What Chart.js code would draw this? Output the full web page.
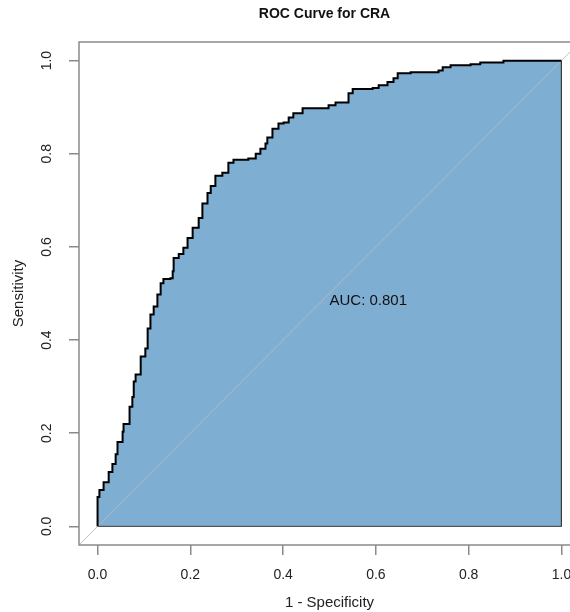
<!DOCTYPE html>
<html>
<head>
<meta charset="utf-8">
<script src="https://cdn.jsdelivr.net/npm/chart.js@4.4.1/dist/chart.umd.min.js"></script>
<style>
  html, body { margin: 0; padding: 0; background: #fff; }
  #wrap { width: 570px; height: 612px; overflow: hidden; position: relative; }
  canvas { display: block; }
</style>
</head>
<body>
<div id="wrap"><canvas id="roc" width="600" height="612"></canvas></div>
<script>
// ROC curve: 1 - specificity (x) and sensitivity (y)
const fpr = [0, 0, 0.004, 0.013, 0.024, 0.032, 0.039, 0.043, 0.054, 0.056, 0.069, 0.075, 0.078,
  0.082, 0.093, 0.103, 0.108, 0.114, 0.121, 0.129, 0.136, 0.142, 0.157, 0.162, 0.164, 0.175,
  0.185, 0.194, 0.205, 0.218, 0.226, 0.237, 0.244, 0.254, 0.269, 0.282, 0.282, 0.293, 0.325,
  0.341, 0.351, 0.362, 0.366, 0.377, 0.390, 0.401, 0.412, 0.422, 0.442, 0.485, 0.498, 0.513,
  0.524, 0.541, 0.550, 0.593, 0.606, 0.625, 0.638, 0.647, 0.675, 0.735, 0.744, 0.761, 0.804,
  0.825, 0.875, 1]
const tpr = [0, 0.063, 0.078, 0.095, 0.117, 0.134, 0.155, 0.181, 0.203, 0.220, 0.257, 0.278, 0.311,
  0.326, 0.365, 0.382, 0.425, 0.455, 0.472, 0.498, 0.522, 0.531, 0.533, 0.548, 0.576, 0.585,
  0.598, 0.619, 0.641, 0.662, 0.693, 0.716, 0.731, 0.753, 0.759, 0.764, 0.781, 0.787, 0.790,
  0.800, 0.811, 0.822, 0.835, 0.854, 0.865, 0.867, 0.878, 0.887, 0.898, 0.898, 0.904, 0.910,
  0.910, 0.930, 0.939, 0.941, 0.947, 0.954, 0.962, 0.973, 0.975, 0.979, 0.986, 0.990, 0.992,
  0.996, 1, 1]
const xTicks = [0, 0.2, 0.4, 0.6, 0.8, 1]
const yTicks = [0, 0.2, 0.4, 0.6, 0.8, 1]
const chanceLine = [-0.04, 1.04]
const axisRange = [-0.04, 1.04]
const titleText = "ROC Curve for CRA"
const xLabel = "1 - Specificity"
const yLabel = "Sensitivity"
const aucText = "AUC: 0.801"
const aucPos = { x: 0.5, y: 0.5 }

const curve = fpr.map((x, i) => ({ x: x, y: tpr[i] }))
// right side and bottom of the shaded polygon
const polygonEdge = [{ x: 1, y: 1 }, { x: 1, y: 0 }, { x: 0, y: 0 }]
const diagonal = chanceLine.map((v) => ({ x: v, y: v }))

const FONT = "'Liberation Sans', Arial, sans-serif"

// box, title and AUC label
const extras = {
  id: "extras",
  afterDatasetsDraw(chart) {
    const { ctx, chartArea, scales } = chart
    ctx.save()
    ctx.strokeStyle = "#8a8a8a"
    ctx.lineWidth = 1.5
    ctx.strokeRect(chartArea.left, chartArea.top, chartArea.right - chartArea.left, chartArea.bottom - chartArea.top)

    ctx.fillStyle = "#111"
    ctx.font = "15px " + FONT
    ctx.textAlign = "left"
    ctx.textBaseline = "top"
    ctx.fillText(aucText, scales.x.getPixelForValue(aucPos.x), scales.y.getPixelForValue(aucPos.y))

    ctx.font = "bold 14px " + FONT
    ctx.textAlign = "center"
    ctx.textBaseline = "middle"
    ctx.fillText(titleText, (chartArea.left + chartArea.right) / 2 - 5, 14)
    ctx.restore()
  },
}

const tickFont = { family: FONT, size: 14 }
const titleFont = { family: FONT, size: 15 }

new Chart(document.getElementById("roc"), {
  type: "line",
  data: {
    datasets: [
      {
        data: curve,
        stepped: "before",
        fill: false,
        borderColor: "#000",
        borderWidth: 2,
        pointRadius: 0,
      },
      {
        data: diagonal,
        fill: false,
        borderColor: "rgba(185,185,185,0.9)",
        borderWidth: 1,
        pointRadius: 0,
      },
      {
        data: polygonEdge,
        fill: false,
        borderColor: "#3a3a3a",
        borderWidth: 1,
        pointRadius: 0,
      },
      {
        data: curve,
        stepped: "before",
        fill: "origin",
        backgroundColor: "#7faed3",
        borderWidth: 0,
        pointRadius: 0,
      },
    ],
  },
  options: {
    responsive: false,
    animation: false,
    layout: { padding: { top: 42, right: 20, left: 0, bottom: 0 } },
    plugins: {
      legend: { display: false },
      tooltip: { enabled: false },
    },
    scales: {
      x: {
        type: "linear",
        min: axisRange[0],
        max: axisRange[1],
        afterBuildTicks: (scale) => {
          scale.ticks = xTicks.map((v) => ({ value: v }))
        },
        afterFit: (scale) => {
          scale.height = 67
        },
        border: { display: false },
        grid: { drawOnChartArea: false, drawTicks: true, tickLength: 10, tickColor: "#8a8a8a", lineWidth: 1.5 },
        ticks: {
          font: tickFont,
          color: "#222",
          padding: 12,
          maxRotation: 0,
          callback: (v) => v.toFixed(1),
        },
        title: { display: true, text: xLabel, font: titleFont, color: "#222", padding: { top: 0, bottom: 0 } },
      },
      y: {
        type: "linear",
        min: axisRange[0],
        max: axisRange[1],
        afterBuildTicks: (scale) => {
          scale.ticks = yTicks.map((v) => ({ value: v }))
        },
        afterFit: (scale) => {
          scale.width = 79
        },
        border: { display: false },
        grid: { drawOnChartArea: false, drawTicks: true, tickLength: 10, tickColor: "#8a8a8a", lineWidth: 1.5 },
        ticks: {
          font: tickFont,
          color: "#222",
          padding: 12,
          minRotation: 90,
          maxRotation: 90,
          crossAlign: "center",
          callback: (v) => v.toFixed(1),
        },
        title: { display: true, text: yLabel, font: titleFont, color: "#222", padding: { top: 10, bottom: 0 } },
      },
    },
  },
  plugins: [extras],
})
</script>
</body>
</html>
